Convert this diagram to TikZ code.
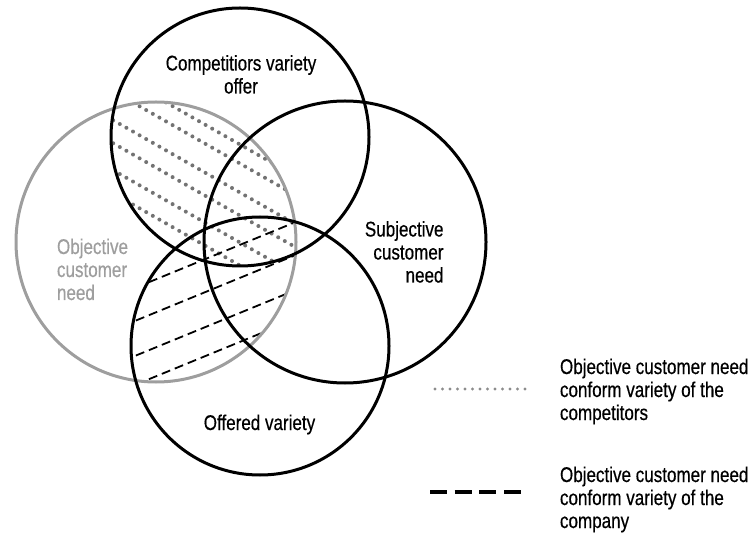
\documentclass[tikz,border=0pt]{standalone}
\usepackage{fontspec}
\usetikzlibrary{calc}
\setmainfont{Liberation Sans}[FakeStretch=0.8,FakeBold=0.5]
\definecolor{venngray}{RGB}{158,158,158}
\definecolor{dotgray}{RGB}{115,115,115}
\definecolor{legdotgray}{RGB}{140,140,140}
\begin{document}
\begin{tikzpicture}[x=1pt,y=-1pt,
  ring/.style={line width=3pt, draw=black},
  grayring/.style={line width=3pt, draw=venngray},
  dotmark/.style={fill=dotgray},
  legdotmark/.style={fill=legdotgray},
  dashhatch/.style={draw=black, line width=1.8pt, dash pattern=on 9pt off 5pt},
  legdash/.style={draw=black, line width=4pt, dash pattern=on 17pt off 7.67pt},
  lbl/.style={inner sep=0pt, outer sep=0pt, font=\fontsize{21.3}{23}\selectfont},
  ]
\useasboundingbox (0,0) rectangle (749,534);
\coordinate (cT) at (240,137);
\coordinate (cG) at (156,242);
\coordinate (cS) at (345,242);
\coordinate (cO) at (260,346);

% dotted hatching: competitors offer within objective need
\begin{scope}
  \clip (cT) circle[radius=129];
  \clip (cG) circle[radius=139];
  \foreach \k in {75,94,123,146,173,196}
    \foreach \i in {0,...,34}
      \fill[dotmark] ({100+6.6*\i},{\k-10.26+3.762*\i}) circle[radius=2.0];
\end{scope}

% dashed hatching: offered variety within objective need
\begin{scope}
  \clip (cO) circle[radius=129];
  \clip (cG) circle[radius=139];
  \foreach \k in {292,325,360,389}
    \draw[dashhatch] (110,\k+6.15) -- (310,\k-75.85);
\end{scope}

% circles
\draw[grayring] (cG) circle[radius=140];
\draw[ring] (cT) circle[radius=129];
\draw[ring] (cS) circle[radius=141];
\draw[ring] (cO) circle[radius=129];

% labels (base anchor = baseline of last line)
\node[lbl, anchor=base, align=center] (tComp) at (241,93.5) {Competitiors variety\\offer};
\node[lbl, anchor=base west, align=left, text=venngray] (tObj) at (57,300) {Objective\\customer\\need};
\node[lbl, anchor=base east, align=right] (tSubj) at (443.5,282.5) {Subjective\\customer\\need};
\node[lbl, anchor=base] (tOff) at (259.5,430) {Offered variety};

% legend
\coordinate (d1) at (435,389);
\coordinate (d2) at (525,389);
\foreach \i in {0,...,12}
  \fill[legdotmark] ($(d1)!\i/12!(d2)$) circle[radius=1.6];
\node[lbl, anchor=base west, align=left] (leg1) at (560,420) {Objective customer need\\conform variety of the\\competitors};
\coordinate (e1) at (430,492);
\coordinate (e2) at (521,492);
\draw[legdash] (e1) -- (e2);
\node[lbl, anchor=base west, align=left] (leg2) at (560,528) {Objective customer need\\conform variety of the\\company};
\end{tikzpicture}
\end{document}
